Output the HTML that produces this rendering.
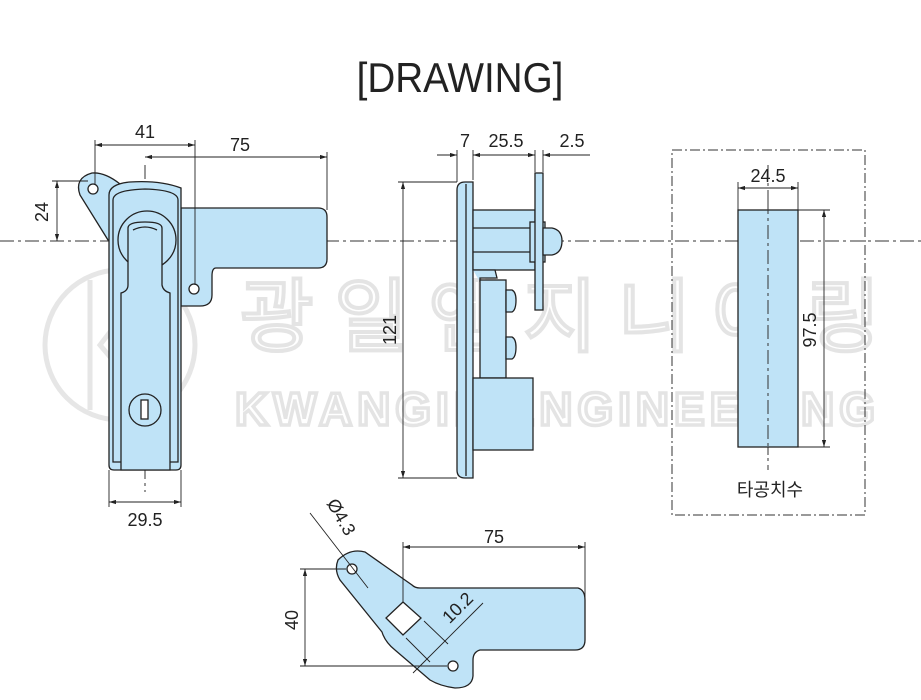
<!DOCTYPE html>
<html><head><meta charset="utf-8"><style>
body{margin:0;background:#fff}
svg{display:block}
text{font-family:"Liberation Sans","Noto Sans CJK KR",sans-serif;fill:#222}
</style></head><body>
<svg width="921" height="700" viewBox="0 0 921 700" xmlns="http://www.w3.org/2000/svg">
<defs>
<marker id="a" viewBox="0 0 10 6" refX="10" refY="3" markerWidth="8" markerHeight="5" orient="auto-start-reverse"><path d="M0,0L10,3L0,6z" fill="#222"/></marker>
</defs>
<!-- watermark -->
<g fill="none" stroke="#e6e6e6" stroke-width="5">
<circle cx="120" cy="345" r="75"/>
<path d="M90 280V410M150 280L100 345L155 410"/>
</g>
<text x="240" y="345" font-size="80" stroke="#e4e4e4" stroke-width="4" style="fill:none" textLength="640">광일엔지니어링</text>
<text x="235" y="425" font-size="46" font-weight="bold" stroke="#e4e4e4" stroke-width="3.5" style="fill:none" textLength="640">KWANGIL ENGINEERING</text>

<text x="460" y="92" font-size="42" text-anchor="middle" transform="translate(460 0) scale(0.92 1) translate(-460 0)">[DRAWING]</text>

<!-- center lines -->
<g stroke="#333" stroke-width="1" stroke-dasharray="14,4,3,4" fill="none">
<line x1="0" y1="241" x2="921" y2="241"/>
<line x1="145" y1="165" x2="145" y2="492"/>
<line x1="768" y1="165" x2="768" y2="470"/>
</g>

<g fill="#bfe3f7" stroke="#222" stroke-width="1.3">
<path d="M108 240 L80 195 Q74 178 92 173 Q105 172 120 184 L112 240Z"/>
<path d="M181 208 H318 Q327 208 327 217 V259 Q327 268 318 268 H216 Q212 268 212 276 V295 Q212 306 200 306 H181Z"/>
<path d="M109 195 Q109 184 130 182 Q160 180 181 188 V465 Q181 470 176 470 H114 Q109 470 109 465Z"/>
<path d="M113 200 Q113 190 145 189 Q178 190 178 200 V462 H113Z" fill="none"/>
<circle cx="147" cy="240" r="29"/>
<path d="M128 228 Q128 222 145 222 Q162 222 162 228 V285 Q163 291 170 293 V470 H121 V293 Q128 291 128 285Z"/>
<path d="M133 230 Q145 224 157 230" fill="none"/>
<circle cx="93" cy="189" r="5" fill="#fff"/>
<circle cx="194" cy="289" r="5" fill="#fff"/>
<circle cx="145" cy="410" r="16"/>
<rect x="141" y="400" width="7" height="19" fill="#fff"/>

<path d="M465 182 H473 V478 H465 Q457 478 457 470 V190 Q457 182 465 182Z"/>
<line x1="466" y1="184" x2="466" y2="476"/>
<rect x="473" y="210" width="62" height="60"/>
<line x1="473" y1="228" x2="535" y2="228"/><line x1="473" y1="252" x2="535" y2="252"/>
<path d="M473 270 H495 L497 278 H480 V282"/>
<rect x="480" y="280" width="26" height="98"/>
<path d="M506 290 H512 Q516 292 516 300 Q516 310 512 312 H506Z"/>
<path d="M506 337 H512 Q516 339 516 347 Q516 357 512 359 H506Z"/>
<rect x="473" y="378" width="60" height="72"/>
<rect x="530" y="222" width="15" height="40"/>
<rect x="535" y="173" width="8" height="137"/>
<path d="M543 228 H552 Q562 230 562 241 Q562 253 552 255 H543Z"/>

<path d="M338 560 Q350 548 365 552 L412 585 Q415 588 420 588 H578 Q585 590 585 600 V640 Q585 650 575 650 H480 Q473 652 473 660 V676 Q472 688 455 688 Q440 686 430 680 L395 650 Q385 642 382 632 L340 580 Q334 570 338 560Z"/>
<circle cx="352" cy="569" r="5" fill="#fff"/>
<circle cx="453" cy="666" r="5" fill="#fff"/>
<path d="M403 602 L421 618 L403 635 L386 618Z" fill="#fff"/>
</g>

<g stroke="#222" stroke-width="0.9" fill="none">
<line x1="95" y1="140" x2="95" y2="185"/><line x1="195" y1="140" x2="195" y2="285"/>
<line x1="95" y1="145" x2="195" y2="145" marker-start="url(#a)" marker-end="url(#a)"/>
<line x1="327" y1="152" x2="327" y2="210"/>
<line x1="145" y1="157" x2="327" y2="157" marker-start="url(#a)" marker-end="url(#a)"/>
<line x1="52" y1="181" x2="88" y2="181"/>
<line x1="57" y1="181" x2="57" y2="241" marker-start="url(#a)" marker-end="url(#a)"/>
<line x1="109" y1="470" x2="109" y2="507"/><line x1="181" y1="470" x2="181" y2="507"/>
<line x1="109" y1="502" x2="181" y2="502" marker-start="url(#a)" marker-end="url(#a)"/>

<line x1="457" y1="150" x2="457" y2="182"/><line x1="473" y1="150" x2="473" y2="180"/>
<line x1="535" y1="150" x2="535" y2="172"/><line x1="543" y1="150" x2="543" y2="172"/>
<line x1="437" y1="155" x2="457" y2="155" marker-end="url(#a)"/>
<line x1="473" y1="155" x2="535" y2="155" marker-start="url(#a)" marker-end="url(#a)"/>
<line x1="543" y1="155" x2="590" y2="155" marker-start="url(#a)"/>
<line x1="398" y1="182" x2="457" y2="182"/><line x1="398" y1="478" x2="457" y2="478"/>
<line x1="403" y1="182" x2="403" y2="478" marker-start="url(#a)" marker-end="url(#a)"/>

<line x1="738" y1="182" x2="738" y2="210"/><line x1="798" y1="182" x2="798" y2="210"/>
<line x1="738" y1="188" x2="798" y2="188" marker-start="url(#a)" marker-end="url(#a)"/>
<line x1="798" y1="210" x2="830" y2="210"/><line x1="798" y1="447" x2="830" y2="447"/>
<line x1="824" y1="210" x2="824" y2="447" marker-start="url(#a)" marker-end="url(#a)"/>

<line x1="403" y1="542" x2="403" y2="602"/><line x1="585" y1="542" x2="585" y2="600"/>
<line x1="403" y1="547" x2="585" y2="547" marker-start="url(#a)" marker-end="url(#a)"/>
<line x1="300" y1="569" x2="346" y2="569"/><line x1="300" y1="666" x2="447" y2="666"/>
<line x1="305" y1="569" x2="305" y2="666" marker-start="url(#a)" marker-end="url(#a)"/>
<line x1="310" y1="513" x2="368" y2="588"/>
<line x1="424" y1="621" x2="448" y2="644"/><line x1="406" y1="638" x2="430" y2="662"/>
<line x1="413" y1="673" x2="483" y2="603"/>
</g>
<rect x="672" y="150" width="193" height="365" fill="none" stroke="#333" stroke-width="1" stroke-dasharray="10,3,2,3"/>
<rect x="738" y="210" width="60" height="237" fill="#bfe3f7" stroke="#222" stroke-width="1.3"/>
<line x1="768" y1="200" x2="768" y2="455" stroke="#333" stroke-width="1" stroke-dasharray="14,4,3,4"/>

<g font-size="18">
<text x="145" y="138" text-anchor="middle">41</text>
<text x="240" y="151" text-anchor="middle">75</text>
<text x="48" y="212" text-anchor="middle" transform="rotate(-90 48 212)">24</text>
<text x="145" y="526" text-anchor="middle">29.5</text>
<text x="465" y="147" text-anchor="middle">7</text>
<text x="506" y="147" text-anchor="middle">25.5</text>
<text x="572" y="147" text-anchor="middle">2.5</text>
<text x="396" y="330" text-anchor="middle" transform="rotate(-90 396 330)">121</text>
<text x="768" y="182" text-anchor="middle">24.5</text>
<text x="816" y="330" text-anchor="middle" transform="rotate(-90 816 330)">97.5</text>
<text x="770" y="496" text-anchor="middle">타공치수</text>
<text x="494" y="543" text-anchor="middle">75</text>
<text x="298" y="620" text-anchor="middle" transform="rotate(-90 298 620)">40</text>
<text x="336" y="520" text-anchor="middle" transform="rotate(60 336 520)">Ø4.3</text>
<text x="462" y="612" text-anchor="middle" transform="rotate(-45 462 612)">10.2</text>
</g>
</svg>
</body></html>
